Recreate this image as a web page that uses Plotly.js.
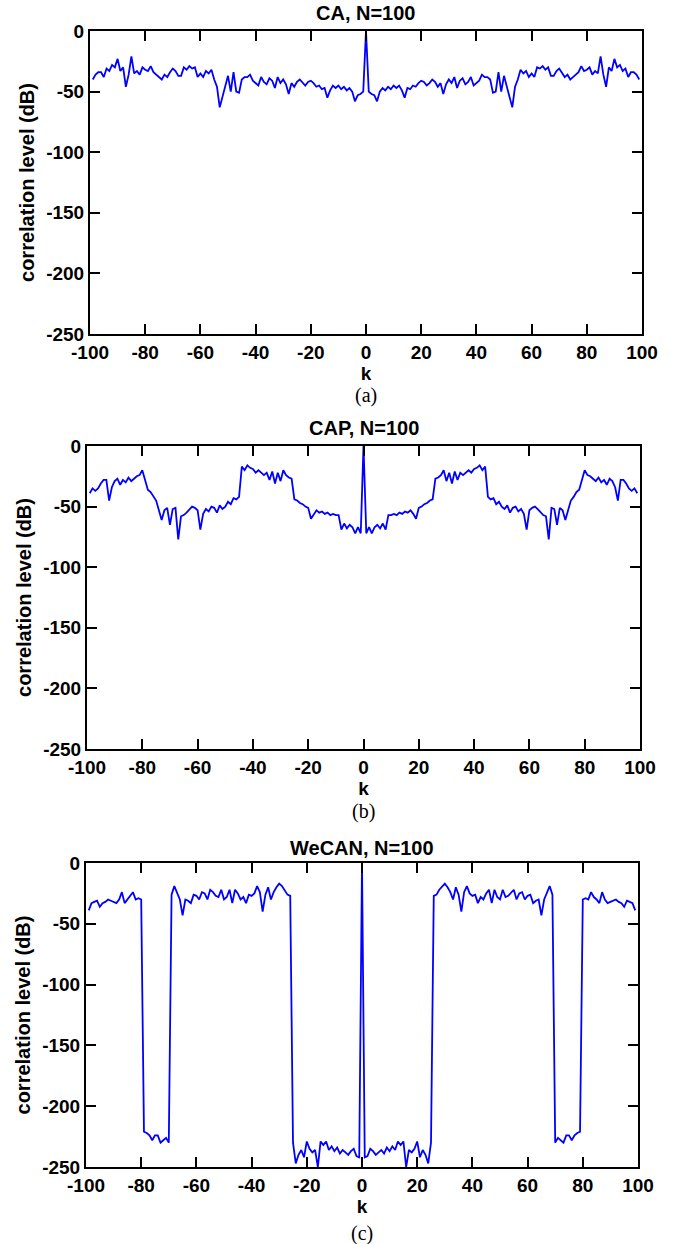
<!DOCTYPE html>
<html><head><meta charset="utf-8">
<script src="https://cdn.plot.ly/plotly-3.0.1.min.js"></script>
<style>html,body{margin:0;padding:0;background:#fff}#chart{width:689px;height:1244px}</style>
</head><body><div id="chart"></div>
<script>
const lags = [-99,-98,-97,-96,-95,-94,-93,-92,-91,-90,
-89,-88,-87,-86,-85,-84,-83,-82,-81,-80,
-79,-78,-77,-76,-75,-74,-73,-72,-71,-70,
-69,-68,-67,-66,-65,-64,-63,-62,-61,-60,
-59,-58,-57,-56,-55,-54,-53,-52,-51,-50,
-49,-48,-47,-46,-45,-44,-43,-42,-41,-40,
-39,-38,-37,-36,-35,-34,-33,-32,-31,-30,
-29,-28,-27,-26,-25,-24,-23,-22,-21,-20,
-19,-18,-17,-16,-15,-14,-13,-12,-11,-10,
-9,-8,-7,-6,-5,-4,-3,-2,-1,0,
1,2,3,4,5,6,7,8,9,10,
11,12,13,14,15,16,17,18,19,20,
21,22,23,24,25,26,27,28,29,30,
31,32,33,34,35,36,37,38,39,40,
41,42,43,44,45,46,47,48,49,50,
51,52,53,54,55,56,57,58,59,60,
61,62,63,64,65,66,67,68,69,70,
71,72,73,74,75,76,77,78,79,80,
81,82,83,84,85,86,87,88,89,90,
91,92,93,94,95,96,97,98,99];

const caLevel = [-40,-36,-34,-34,-38,-31,-33,-28,-30,-23,
-33,-30,-46,-36,-21,-35,-33,-36,-30,-32,
-33,-29,-34,-36,-38,-40,-36,-38,-34,-31,
-33,-37,-37,-30,-32,-29,-31,-30,-38,-35,
-38,-33,-35,-32,-40,-46,-63,-55,-45,-37,
-50,-34,-50,-51,-40,-38,-38,-36,-41,-43,
-45,-38,-42,-44,-39,-41,-47,-38,-43,-40,
-44,-52,-43,-46,-42,-40,-43,-45,-42,-41,
-43,-46,-45,-48,-47,-55,-49,-45,-47,-45,
-48,-46,-49,-47,-50,-58,-53,-52,-50,0,
-50,-52,-53,-58,-50,-47,-49,-46,-48,-45,
-47,-45,-49,-55,-47,-48,-45,-46,-43,-41,
-42,-45,-43,-40,-42,-46,-43,-52,-44,-40,
-43,-38,-47,-41,-39,-44,-42,-38,-45,-43,
-41,-36,-38,-38,-40,-51,-50,-34,-50,-37,
-45,-55,-63,-46,-40,-32,-35,-33,-38,-35,
-38,-30,-31,-29,-32,-30,-37,-37,-33,-31,
-34,-38,-36,-40,-38,-36,-34,-29,-33,-32,
-30,-36,-33,-35,-21,-36,-46,-30,-33,-23,
-30,-28,-33,-31,-38,-34,-34,-36,-40];

const capLevel = [-39,-35,-37,-35,-31,-28,-28,-45,-34,-29,
-27,-32,-28,-30,-26,-29,-27,-25,-24,-20,
-28,-36,-38,-42,-45,-53,-61,-53,-51,-65,
-52,-51,-77,-58,-57,-55,-52,-50,-51,-53,
-69,-56,-52,-54,-50,-51,-55,-49,-52,-50,
-46,-48,-43,-44,-42,-17,-20,-16,-18,-19,
-22,-20,-22,-24,-22,-28,-21,-31,-22,-29,
-20,-24,-26,-27,-44,-45,-47,-48,-50,-51,
-60,-56,-53,-55,-54,-56,-55,-57,-56,-57,
-57,-69,-64,-68,-65,-67,-72,-67,-72,0,
-72,-67,-72,-67,-65,-68,-64,-69,-57,-57,
-56,-57,-55,-56,-54,-55,-53,-56,-60,-51,
-50,-48,-47,-45,-44,-27,-26,-24,-20,-29,
-22,-31,-21,-28,-22,-24,-22,-20,-22,-19,
-18,-16,-20,-17,-42,-44,-43,-48,-46,-50,
-52,-49,-55,-51,-50,-54,-52,-56,-69,-53,
-51,-50,-52,-55,-57,-58,-77,-51,-52,-65,
-51,-53,-61,-53,-45,-42,-38,-36,-28,-20,
-24,-25,-27,-29,-26,-30,-28,-32,-27,-29,
-34,-45,-28,-28,-31,-35,-37,-35,-39];

const wecanLevel = [-39,-33,-32,-31,-36,-33,-32,-30,-31,-32,
-33,-30,-24,-33,-30,-28,-24,-30,-29,-30,
-221,-222,-224,-228,-224,-224,-230,-228,-226,-230,
-26,-19,-25,-30,-43,-30,-31,-33,-26,-27,
-30,-24,-25,-30,-22,-24,-27,-28,-22,-30,
-28,-22,-33,-22,-25,-30,-28,-33,-26,-27,
-25,-19,-24,-40,-26,-20,-30,-24,-20,-17,
-19,-22,-26,-27,-230,-247,-240,-236,-242,-229,
-235,-238,-236,-250,-229,-232,-229,-236,-233,-237,
-234,-239,-236,-238,-240,-237,-235,-241,-242,0,
-242,-241,-235,-237,-240,-238,-236,-239,-234,-237,
-233,-236,-229,-232,-229,-250,-236,-238,-235,-229,
-242,-236,-240,-247,-230,-27,-26,-22,-19,-17,
-20,-24,-30,-20,-26,-40,-24,-19,-25,-27,
-26,-33,-28,-30,-25,-22,-33,-22,-28,-30,
-22,-28,-27,-24,-22,-30,-25,-24,-30,-27,
-26,-33,-31,-30,-43,-30,-25,-19,-26,-230,
-226,-228,-230,-224,-224,-228,-224,-222,-221,-30,
-29,-30,-24,-28,-30,-33,-24,-30,-33,-32,
-31,-30,-32,-33,-36,-31,-32,-33,-39];

const panelTitles = ['CA, N=100', 'CAP, N=100', 'WeCAN, N=100'];
const panelCaptions = ['(a)', '(b)', '(c)'];
const xTickVals = [-100, -80, -60, -40, -20, 0, 20, 40, 60, 80, 100];
const yTickVals = [-250, -200, -150, -100, -50, 0];
const xLabel = 'k';
const yLabel = 'correlation level (dB)';

const W = 689, H = 1244;
// pixel boxes [left, right, top, bottom] for the three panels
const boxes = [[90, 642, 31, 334], [87, 640, 446, 749], [86, 638, 863, 1167]];
const titleY = [13, 428, 848];
const captionY = [396, 811, 1233];
const series = [caLevel, capLevel, wecanLevel];

const fam = 'Liberation Sans, Arial, sans-serif';
const tickFont = {family: fam, size: 19, color: '#000', weight: 'bold'};
const titleFont = {family: fam, size: 20, color: '#000', weight: 'bold'};
const yTitleFont = {family: fam, size: 20, color: '#000', weight: 'bold'};

const data = [];
const layout = {
  width: W, height: H, margin: {l: 0, r: 0, t: 0, b: 0},
  paper_bgcolor: '#fff', plot_bgcolor: '#fff', showlegend: false,
  annotations: []
};

series.forEach((yv, i) => {
  const n = i === 0 ? '' : String(i + 1);
  const b = boxes[i];
  data.push({
    x: lags, y: yv, type: 'scatter', mode: 'lines',
    line: {color: '#0000ff', width: 1.8},
    xaxis: 'x' + n, yaxis: 'y' + n, hoverinfo: 'skip'
  });
  const common = {
    showline: true, linecolor: '#000', linewidth: 2, mirror: 'ticks',
    ticks: 'inside', ticklen: 10, tickwidth: 2, tickcolor: '#000',
    showgrid: false, zeroline: false, tickfont: tickFont
  };
  layout['xaxis' + n] = Object.assign({}, common, {
    domain: [b[0] / W, b[1] / W], range: [-100, 100],
    tickvals: xTickVals, ticktext: xTickVals.map(String),
    anchor: 'y' + n,
    title: {text: xLabel, font: tickFont, standoff: 1}
  });
  layout['yaxis' + n] = Object.assign({}, common, {
    domain: [1 - b[3] / H, 1 - b[2] / H], range: [-250, 0],
    tickvals: yTickVals, ticktext: yTickVals.map(String),
    anchor: 'x' + n,
    title: {text: yLabel, font: yTitleFont, standoff: 6}
  });
  layout.annotations.push({
    text: panelTitles[i], xref: 'paper', yref: 'paper',
    x: (b[0] + b[1]) / 2 / W, y: 1 - titleY[i] / H,
    xanchor: 'center', yanchor: 'middle', showarrow: false, font: titleFont
  });
  layout.annotations.push({
    text: panelCaptions[i], xref: 'paper', yref: 'paper',
    x: (b[0] + b[1]) / 2 / W, y: 1 - captionY[i] / H,
    xanchor: 'center', yanchor: 'middle', showarrow: false,
    font: {family: 'Liberation Serif, Times New Roman, serif', size: 20, color: '#000'}
  });
});

Plotly.newPlot('chart', data, layout, {staticPlot: true, displayModeBar: false});
</script>
</body></html>
